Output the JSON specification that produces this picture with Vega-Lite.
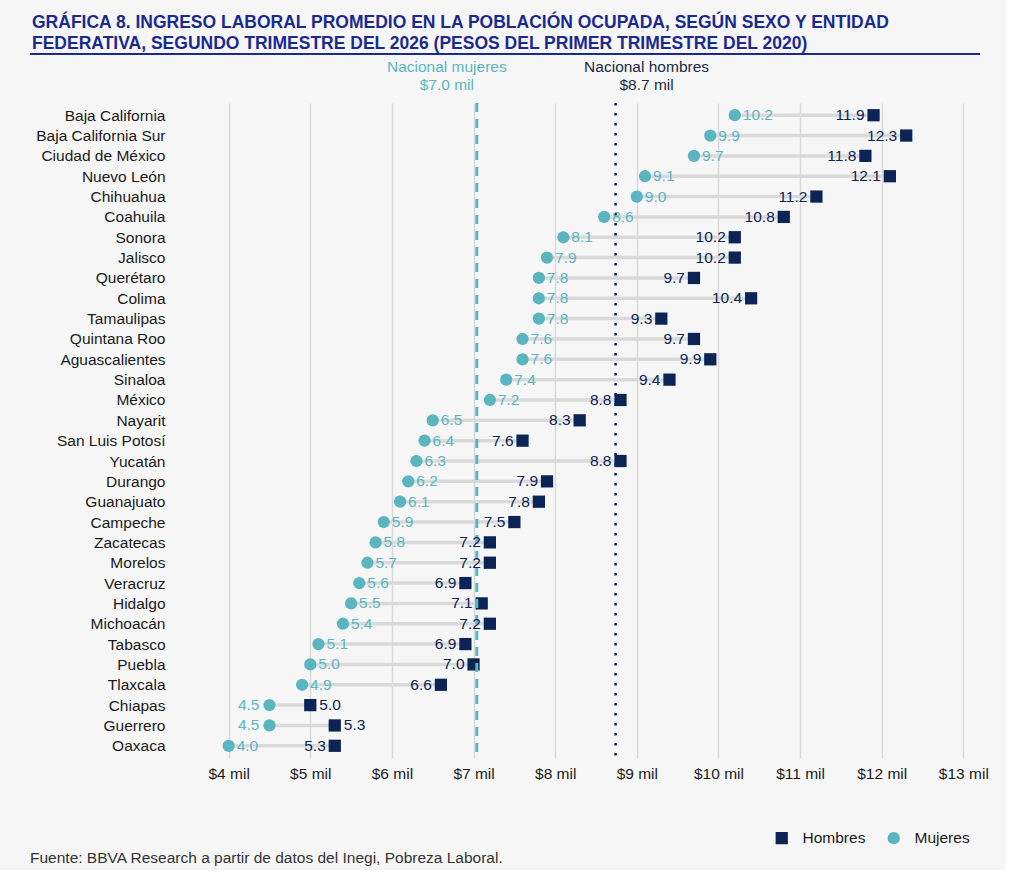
{
  "$schema": "https://vega.github.io/schema/vega-lite/v6.json",
  "background": "#f6f6f6",
  "padding": {"left": 28, "top": 13, "right": 10, "bottom": 3},
  "config": {"font": "Liberation Sans", "view": {"stroke": null}},
  "spacing": 3,
  "bounds": "full",
  "resolve": {"legend": {"color": "independent", "shape": "independent"}},
  "datasets": {
    "estados": [
      {"estado": "Baja California", "Mujeres": 10.2, "Hombres": 11.9},
      {"estado": "Baja California Sur", "Mujeres": 9.9, "Hombres": 12.3},
      {"estado": "Ciudad de México", "Mujeres": 9.7, "Hombres": 11.8},
      {"estado": "Nuevo León", "Mujeres": 9.1, "Hombres": 12.1},
      {"estado": "Chihuahua", "Mujeres": 9.0, "Hombres": 11.2},
      {"estado": "Coahuila", "Mujeres": 8.6, "Hombres": 10.8},
      {"estado": "Sonora", "Mujeres": 8.1, "Hombres": 10.2},
      {"estado": "Jalisco", "Mujeres": 7.9, "Hombres": 10.2},
      {"estado": "Querétaro", "Mujeres": 7.8, "Hombres": 9.7},
      {"estado": "Colima", "Mujeres": 7.8, "Hombres": 10.4},
      {"estado": "Tamaulipas", "Mujeres": 7.8, "Hombres": 9.3},
      {"estado": "Quintana Roo", "Mujeres": 7.6, "Hombres": 9.7},
      {"estado": "Aguascalientes", "Mujeres": 7.6, "Hombres": 9.9},
      {"estado": "Sinaloa", "Mujeres": 7.4, "Hombres": 9.4},
      {"estado": "México", "Mujeres": 7.2, "Hombres": 8.8},
      {"estado": "Nayarit", "Mujeres": 6.5, "Hombres": 8.3},
      {"estado": "San Luis Potosí", "Mujeres": 6.4, "Hombres": 7.6},
      {"estado": "Yucatán", "Mujeres": 6.3, "Hombres": 8.8},
      {"estado": "Durango", "Mujeres": 6.2, "Hombres": 7.9},
      {"estado": "Guanajuato", "Mujeres": 6.1, "Hombres": 7.8},
      {"estado": "Campeche", "Mujeres": 5.9, "Hombres": 7.5},
      {"estado": "Zacatecas", "Mujeres": 5.8, "Hombres": 7.2},
      {"estado": "Morelos", "Mujeres": 5.7, "Hombres": 7.2},
      {"estado": "Veracruz", "Mujeres": 5.6, "Hombres": 6.9},
      {"estado": "Hidalgo", "Mujeres": 5.5, "Hombres": 7.1},
      {"estado": "Michoacán", "Mujeres": 5.4, "Hombres": 7.2},
      {"estado": "Tabasco", "Mujeres": 5.1, "Hombres": 6.9},
      {"estado": "Puebla", "Mujeres": 5.0, "Hombres": 7.0},
      {"estado": "Tlaxcala", "Mujeres": 4.9, "Hombres": 6.6},
      {"estado": "Chiapas", "Mujeres": 4.5, "Hombres": 5.0},
      {"estado": "Guerrero", "Mujeres": 4.5, "Hombres": 5.3},
      {"estado": "Oaxaca", "Mujeres": 4.0, "Hombres": 5.3}
    ],
    "nacional": [
      {"sexo": "Mujeres", "valor": 7.04, "texto": "Nacional mujeres\n$7.0 mil"},
      {"sexo": "Hombres", "valor": 8.74, "texto": "Nacional hombres\n$8.7 mil"}
    ]
  },
  "vconcat": [
    {
      "width": 800,
      "height": 3,
      "title": {
        "text": [
          "GRÁFICA 8. INGRESO LABORAL PROMEDIO EN LA POBLACIÓN OCUPADA, SEGÚN SEXO Y ENTIDAD",
          "FEDERATIVA, SEGUNDO TRIMESTRE DEL 2026 (PESOS DEL PRIMER TRIMESTRE DEL 2020)"
        ],
        "font": "Liberation Sans",
        "fontSize": 17.5,
        "fontWeight": "bold",
        "color": "#1a2a8f",
        "anchor": "start",
        "frame": "bounds",
        "dx": 3,
        "lineHeight": 21,
        "offset": 1
      },
      "data": {"values": [{}]},
      "mark": {"type": "rule", "color": "#1a2a8f", "strokeWidth": 2},
      "encoding": {
        "x": {"datum": 1.5664, "type": "quantitative", "axis": null, "scale": {"domain": [3.6, 13.4], "nice": false, "zero": false}},
        "x2": {"datum": 13.204},
        "y": {"datum": 1, "type": "quantitative", "axis": null, "scale": {"domain": [0, 1]}}
      }
    },
    {
      "width": 800,
      "height": 655,
      "layer": [
        {
          "data": {"name": "estados"},
          "mark": {"type": "rule", "color": "#d9d9d9", "strokeWidth": 3.5},
          "encoding": {
            "y": {
              "field": "estado", "type": "nominal", "sort": null,
              "scale": {"type": "point", "padding": 0.6},
              "axis": {"title": null, "labelFontSize": 15.5, "labelColor": "#1a1a1a", "ticks": false, "domain": false, "grid": false, "labelPadding": 31}
            },
            "x": {
              "field": "Mujeres", "type": "quantitative",
              "scale": {"domain": [3.6, 13.4], "nice": false, "zero": false},
              "axis": {
                "title": null, "values": [4, 5, 6, 7, 8, 9, 10, 11, 12, 13],
                "labelExpr": "'$' + datum.value + ' mil'",
                "labelFontSize": 15.5, "labelColor": "#1a1a1a", "ticks": false, "domain": false,
                "grid": true, "gridColor": "#d9d9d9", "gridWidth": 1.5, "labelPadding": 8
              }
            },
            "x2": {"field": "Hombres"}
          }
        },
        {
          "data": {"name": "estados"},
          "transform": [{"fold": ["Hombres", "Mujeres"], "as": ["sexo", "valor"]}],
          "mark": {"type": "point", "filled": true, "opacity": 1, "size": 150},
          "encoding": {
            "y": {"field": "estado", "type": "nominal", "sort": null},
            "x": {"field": "valor", "type": "quantitative"},
            "color": {
              "field": "sexo", "type": "nominal",
              "scale": {"domain": ["Hombres", "Mujeres"], "range": ["#0b2455", "#5bb5c1"]},
              "legend": {
                "title": null, "orient": "none", "legendX": 578, "legendY": 727,
                "direction": "horizontal", "labelFontSize": 15.5, "labelColor": "#1a1a1a",
                "symbolSize": 150, "labelOffset": 13, "columnPadding": 20
              }
            },
            "shape": {
              "field": "sexo", "type": "nominal",
              "scale": {"domain": ["Hombres", "Mujeres"], "range": ["square", "circle"]},
              "legend": {
                "title": null, "orient": "none", "legendX": 578, "legendY": 727,
                "direction": "horizontal", "labelFontSize": 15.5, "labelColor": "#1a1a1a",
                "symbolSize": 150, "labelOffset": 13, "columnPadding": 20
              }
            }
          }
        },
        {
          "data": {"name": "nacional"},
          "transform": [{"filter": "datum.sexo === 'Mujeres'"}],
          "mark": {"type": "rule", "color": "#5bb5c1", "strokeWidth": 3, "strokeDash": [9, 7]},
          "encoding": {"x": {"field": "valor", "type": "quantitative"}}
        },
        {
          "data": {"name": "nacional"},
          "transform": [{"filter": "datum.sexo === 'Hombres'"}],
          "mark": {"type": "rule", "color": "#0b2455", "strokeWidth": 2.5, "strokeDash": [2.5, 7.5]},
          "encoding": {"x": {"field": "valor", "type": "quantitative"}}
        },
        {
          "data": {"name": "nacional"},
          "transform": [{"filter": "datum.sexo === 'Mujeres'"}],
          "mark": {"type": "text", "lineBreak": "\n", "lineHeight": 18, "fontSize": 15.5, "color": "#5bb5c1", "dx": -30, "dy": -48, "baseline": "middle", "align": "center"},
          "encoding": {
            "x": {"field": "valor", "type": "quantitative"},
            "y": {"datum": "Baja California", "type": "nominal"},
            "text": {"field": "texto"}
          }
        },
        {
          "data": {"name": "nacional"},
          "transform": [{"filter": "datum.sexo === 'Hombres'"}],
          "mark": {"type": "text", "lineBreak": "\n", "lineHeight": 18, "fontSize": 15.5, "color": "#1a2a44", "dx": 31, "dy": -48, "baseline": "middle", "align": "center"},
          "encoding": {
            "x": {"field": "valor", "type": "quantitative"},
            "y": {"datum": "Baja California", "type": "nominal"},
            "text": {"field": "texto"}
          }
        },
        {
          "data": {"name": "estados"},
          "transform": [{"filter": "datum.Hombres - datum.Mujeres >= 1"}],
          "mark": {"type": "text", "align": "right", "baseline": "middle", "dx": -9, "fontSize": 15.5, "color": "#0b2455"},
          "encoding": {
            "y": {"field": "estado", "type": "nominal", "sort": null},
            "x": {"field": "Hombres", "type": "quantitative"},
            "text": {"field": "Hombres", "type": "quantitative", "format": ".1f"}
          }
        },
        {
          "data": {"name": "estados"},
          "transform": [{"filter": "datum.Hombres - datum.Mujeres < 1"}],
          "mark": {"type": "text", "align": "left", "baseline": "middle", "dx": 9, "fontSize": 15.5, "color": "#0b2455"},
          "encoding": {
            "y": {"field": "estado", "type": "nominal", "sort": null},
            "x": {"field": "Hombres", "type": "quantitative"},
            "text": {"field": "Hombres", "type": "quantitative", "format": ".1f"}
          }
        },
        {
          "data": {"name": "estados"},
          "transform": [{"filter": "datum.Hombres - datum.Mujeres >= 1"}],
          "mark": {"type": "text", "align": "left", "baseline": "middle", "dx": 8, "fontSize": 15.5, "color": "#5bb5c1"},
          "encoding": {
            "y": {"field": "estado", "type": "nominal", "sort": null},
            "x": {"field": "Mujeres", "type": "quantitative"},
            "text": {"field": "Mujeres", "type": "quantitative", "format": ".1f"}
          }
        },
        {
          "data": {"name": "estados"},
          "transform": [{"filter": "datum.Hombres - datum.Mujeres < 1"}],
          "mark": {"type": "text", "align": "right", "baseline": "middle", "dx": -10, "fontSize": 15.5, "color": "#5bb5c1"},
          "encoding": {
            "y": {"field": "estado", "type": "nominal", "sort": null},
            "x": {"field": "Mujeres", "type": "quantitative"},
            "text": {"field": "Mujeres", "type": "quantitative", "format": ".1f"}
          }
        }
      ]
    },
    {
      "width": 800,
      "height": 1,
      "title": {
        "text": "Fuente: BBVA Research a partir de datos del Inegi, Pobreza Laboral.",
        "anchor": "start",
        "frame": "bounds",
        "fontSize": 15.5,
        "fontWeight": "normal",
        "color": "#333333",
        "offset": 0
      },
      "data": {"values": [{}]},
      "mark": {"type": "rule", "opacity": 0},
      "encoding": {
        "x": {"datum": 1.5664, "type": "quantitative", "axis": null, "scale": {"domain": [3.6, 13.4], "nice": false, "zero": false}},
        "x2": {"datum": 13.204},
        "y": {"datum": 0, "type": "quantitative", "axis": null, "scale": {"domain": [0, 1]}}
      }
    }
  ]
}
